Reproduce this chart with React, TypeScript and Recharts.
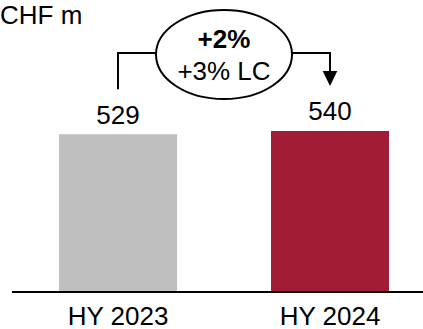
import React from 'react';
import { BarChart, Bar, XAxis, YAxis, Cell, LabelList } from 'recharts';

const categories = ['HY 2023', 'HY 2024'];
const revenue = [529, 540];
const barColors = ['#bfbfbf', '#a11c37'];
const growthLabels = ['+2%', '+3% LC'];
const unitLabel = 'CHF m';

const chartData = categories.map((name, i) => ({ name, value: revenue[i] }));

const FONT = '"Liberation Sans", Arial, sans-serif';
const BRIDGE_Y = 53;
const MID_X = 224;

// value above each bar plus the bridge line towards the growth bubble
const BarTopLabel = (props: any) => {
  const { x, y, width, value, index } = props;
  const cx = x + width / 2;
  const lineEnd = y - 45;
  return (
    <g>
      <text x={cx} y={y - 10.5} textAnchor="middle" fontSize={26} fontFamily={FONT} fill="#000">
        {value}
      </text>
      {index === 0 ? (
        <path d={`M${cx},${lineEnd} V${BRIDGE_Y} H${MID_X}`} fill="none" stroke="#000" strokeWidth={2} />
      ) : (
        <g>
          <path d={`M${MID_X},${BRIDGE_Y} H${cx} V${lineEnd - 14}`} fill="none" stroke="#000" strokeWidth={2} />
          <polygon points={`${cx - 7.3},${lineEnd - 15} ${cx + 7.3},${lineEnd - 15} ${cx},${lineEnd}`} fill="#000" />
        </g>
      )}
    </g>
  );
};

export default function App() {
  return (
    <div style={{ position: 'absolute', left: 0, top: 0, width: 423, height: 329, overflow: 'hidden', background: '#fff' }}>
      <BarChart width={436} height={329} data={chartData} margin={{ top: 113, right: 0, left: 12, bottom: 0 }}>
        <XAxis
          dataKey="name"
          height={37}
          axisLine={{ stroke: '#000', strokeWidth: 2 }}
          tickLine={false}
          tickSize={6}
          tickMargin={9}
          tick={{ fontSize: 26, fill: '#000', fontFamily: FONT }}
        />
        <YAxis hide domain={[0, 600]} />
        <Bar dataKey="value" barSize={118} isAnimationActive={false}>
          {chartData.map((d, i) => (
            <Cell key={d.name} fill={barColors[i]} />
          ))}
          <LabelList dataKey="value" content={BarTopLabel} />
        </Bar>
      </BarChart>
      <svg width={423} height={329} style={{ position: 'absolute', left: 0, top: 0, pointerEvents: 'none' }}>
        <text x={0} y={23.5} fontSize={26} fontFamily={FONT} fill="#000">
          {unitLabel}
        </text>
        <ellipse cx={MID_X} cy={54.5} rx={68} ry={44.5} fill="#fff" stroke="#000" strokeWidth={2} />
        <text x={MID_X} y={48} textAnchor="middle" fontSize={26} fontWeight="bold" fontFamily={FONT} fill="#000">
          {growthLabels[0]}
        </text>
        <text x={MID_X} y={80} textAnchor="middle" fontSize={26} fontFamily={FONT} fill="#000">
          {growthLabels[1]}
        </text>
      </svg>
    </div>
  );
}
